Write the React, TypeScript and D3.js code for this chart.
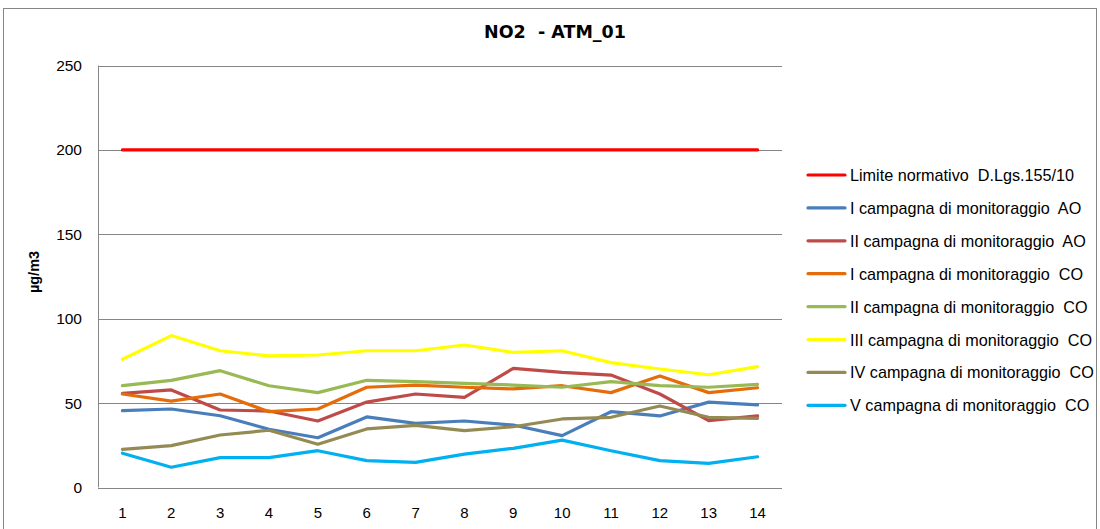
import React from "react";
import * as d3 from "d3";

const categories = [1, 2, 3, 4, 5, 6, 7, 8, 9, 10, 11, 12, 13, 14];
const yTicks = [0, 50, 100, 150, 200, 250];

const limite = [200, 200, 200, 200, 200, 200, 200, 200, 200, 200, 200, 200, 200, 200];
const campIAO = [45.5, 46.5, 42.5, 34.5, 29.5, 41.8, 38, 39.4, 37, 30.7, 44.9, 42.4, 50.6, 48.9];
const campIIAO = [55.8, 57.8, 45.9, 45.3, 39.4, 50.6, 55.4, 53.4, 70.6, 68.2, 66.6, 55.4, 39.6, 42.4];
const campICO = [55.4, 51.2, 55.4, 44.9, 46.5, 59.4, 60.7, 59.4, 58.4, 60.3, 56.2, 66, 56.2, 59.1];
const campIICO = [60.3, 63.5, 69.2, 60.3, 56.2, 63.5, 62.7, 61.7, 60.7, 59.4, 62.7, 60.3, 59.4, 61.1];
const campIIICO = [76, 90, 81, 78, 78.5, 81, 81, 84.4, 80, 81, 74, 70.2, 66.8, 71.6];
const campIVCO = [22.6, 24.8, 31.1, 33.9, 25.6, 34.7, 36.8, 33.7, 36, 40.6, 41.6, 48.3, 41.6, 41];
const campVCO = [20.3, 12, 17.7, 17.7, 21.8, 15.9, 14.9, 19.8, 23.2, 28.1, 21.8, 15.9, 14.3, 18.2];

const seriesNames = [
  "Limite normativo  D.Lgs.155/10",
  "I campagna di monitoraggio  AO",
  "II campagna di monitoraggio  AO",
  "I campagna di monitoraggio  CO",
  "II campagna di monitoraggio  CO",
  "III campagna di monitoraggio  CO",
  "IV campagna di monitoraggio  CO",
  "V campagna di monitoraggio  CO",
];
const seriesColors = ["#FF0000", "#4A7EBB", "#BE4B48", "#E46C0A", "#98B954", "#FFFF00", "#948A54", "#00B0F0"];
const seriesValues = [limite, campIAO, campIIAO, campICO, campIICO, campIIICO, campIVCO, campVCO];

const W = 1100;
const H = 529;
const FONT = "'Liberation Sans', Arial, sans-serif";

export default function App() {
  const left = 98;
  const right = 782;
  const top = 65.5;
  const bottom = 487.5;

  const x = d3.scaleBand<number>().domain(categories).range([left, right]);
  const y = d3.scaleLinear().domain([0, 250]).range([bottom, top]);
  const cx = (c: number) => (x(c) as number) + x.bandwidth() / 2;

  const line = d3
    .line<number>()
    .x((_, i) => cx(categories[i]))
    .y((d) => y(d));

  return (
    <svg
      width={W}
      height={H}
      style={{ position: "absolute", left: 0, top: 0, background: "#fff" }}
      fontFamily={FONT}
    >
      <rect x={3.5} y={8.5} width={1093} height={540} fill="#fff" stroke="#868686" strokeWidth={1} />
      <text
        x={555}
        y={38}
        textAnchor="middle"
        fontSize={17.5}
        fontWeight="bold"
        fill="#000"
        fontFamily="'DejaVu Sans', Verdana, sans-serif"
        style={{ whiteSpace: "pre" }}
      >
        NO2  - ATM_01
      </text>

      {yTicks.map((t) => (
        <g key={t}>
          <line x1={left} x2={right} y1={Math.round(y(t)) + 0.5} y2={Math.round(y(t)) + 0.5} stroke="#868686" strokeWidth={1} />
          <text x={82} y={y(t) + 5.5} textAnchor="end" fontSize={15.5} fill="#000">
            {t}
          </text>
        </g>
      ))}
      <line x1={left + 0.5} x2={left + 0.5} y1={top} y2={bottom} stroke="#868686" strokeWidth={1} />

      {categories.map((c) => (
        <text key={c} x={cx(c)} y={517.5} textAnchor="middle" fontSize={15} fill="#000">
          {c}
        </text>
      ))}

      <text
        transform={`translate(39, 272) rotate(-90)`}
        textAnchor="middle"
        fontSize={14.5}
        fontWeight="bold"
        fill="#000"
      >
        µg/m3
      </text>

      {seriesValues.map((vals, i) => (
        <path
          key={i}
          d={line(vals) || ""}
          fill="none"
          stroke={seriesColors[i]}
          strokeWidth={3.2}
          strokeLinejoin="round"
          strokeLinecap="round"
        />
      ))}

      {seriesNames.map((n, i) => {
        const ly = 175 + i * 32.9;
        return (
          <g key={n}>
            <line x1={808} x2={845} y1={ly} y2={ly} stroke={seriesColors[i]} strokeWidth={3.2} strokeLinecap="round" />
            <text x={850} y={ly + 6} fontSize={16.2} fill="#000" style={{ whiteSpace: "pre" }}>
              {n}
            </text>
          </g>
        );
      })}
    </svg>
  );
}
